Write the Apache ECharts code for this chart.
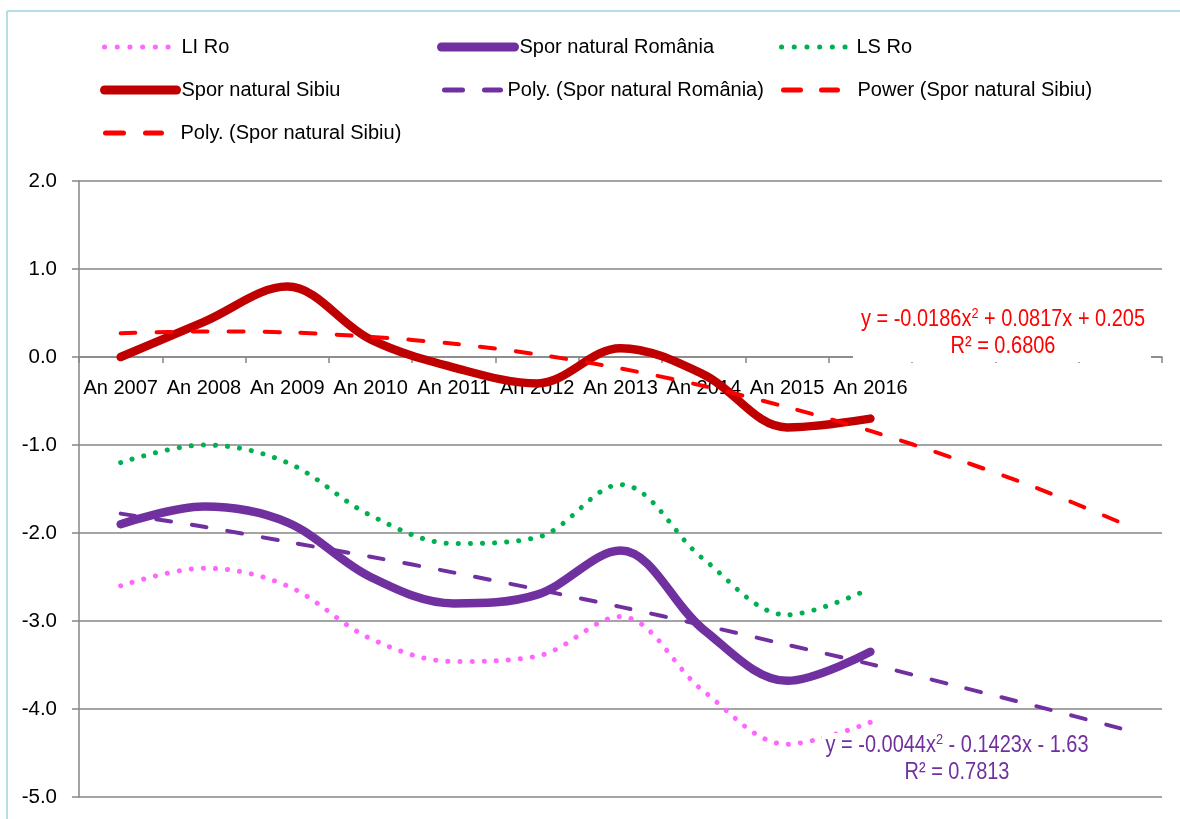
<!DOCTYPE html>
<html>
<head>
<meta charset="utf-8">
<script src="https://cdn.jsdelivr.net/npm/echarts@6/dist/echarts.min.js"></script>
<style>
html,body{margin:0;padding:0;background:#fff;}
#chart{width:1180px;height:819px;}
</style>
</head>
<body>
<div id="chart"></div>
<script>
// ---- data ----
const categories = ['An 2007','An 2008','An 2009','An 2010','An 2011','An 2012','An 2013','An 2014','An 2015','An 2016','','',''];
const liRo        = [-2.6, -2.4, -2.6, -3.2, -3.46, -3.4, -2.95, -3.8, -4.4, -4.15];
const sporRomania = [-1.9, -1.7, -1.88, -2.5, -2.8, -2.7, -2.2, -3.1, -3.68, -3.35];
const lsRo        = [-1.2, -1.0, -1.2, -1.8, -2.12, -2.05, -1.45, -2.3, -2.93, -2.63];
const sporSibiu   = [0.0, 0.4, 0.8, 0.2, -0.12, -0.3, 0.1, -0.2, -0.8, -0.7];
const polyRomania = [-1.78, -1.93, -2.10, -2.27, -2.45, -2.64, -2.84, -3.05, -3.27, -3.49, -3.73, -3.97, -4.22];
const powerSibiu  = [];
const polySibiu   = [0.27, 0.29, 0.28, 0.23, 0.15, 0.03, -0.13, -0.33, -0.57, -0.84, -1.15, -1.49, -1.88];
const yTicks = {min: -5, max: 2, interval: 1};
const eqSibiu = {a: '-0.0186', b: '+ 0.0817x + 0.205', r2: '0.6806'};
const eqRomania = {a: '-0.0044', b: '- 0.1423x - 1.63', r2: '0.7813'};

const FONT = "'Liberation Sans',Arial,sans-serif";
const C_PINK = '#FF66FF', C_PURPLE = '#7030A0', C_GREEN = '#00B050', C_DRED = '#C00000', C_RED = '#FF0000';

const GRID = {left: 79, right: 18, top: 181, bottom: 22};
const H = 819;
const gridH = H - GRID.top - GRID.bottom;
const zeroOffset = -gridH * (0 - yTicks.min) / (yTicks.max - yTicks.min);

const chart = echarts.init(document.getElementById('chart'), null, {renderer: 'canvas'});

const dotted = [0.1, 12];
const dashed = [15, 21];

function leg(name, left, top, w, pad, ls) {
  return {
    data: [name], left: left, top: top, itemWidth: w, itemHeight: 20,
    padding: 0, selectedMode: false,
    itemStyle: {opacity: 0},
    lineStyle: ls,
    textStyle: {fontFamily: FONT, fontSize: 20, color: '#000', padding: [0, 0, 0, pad]}
  };
}

const option = {
  animation: false,
  backgroundColor: '#fff',
  legend: [
    leg('LI Ro', 100, 37, 66, 8, {color: C_PINK, width: 5, type: [0.1, 12.6], cap: 'round', dashOffset: -2}),
    leg('Spor natural România', 437, 37, 73, 0, {color: C_PURPLE, width: 9, type: 'solid', cap: 'round'}),
    leg('LS Ro', 777, 37, 66, 6, {color: C_GREEN, width: 5, type: [0.1, 12.6], cap: 'round', dashOffset: -2}),
    leg('Spor natural Sibiu', 100, 80, 72, 0, {color: C_DRED, width: 9, type: 'solid', cap: 'round'}),
    leg('Poly. (Spor natural România)', 440, 80, 58, 2, {color: C_PURPLE, width: 5, type: [18, 22], cap: 'round', dashOffset: -2}),
    leg('Power (Spor natural Sibiu)', 779, 80, 56, 15, {color: C_RED, width: 5, type: [17, 21], cap: 'round', dashOffset: -2}),
    leg('Poly. (Spor natural Sibiu)', 101, 123, 58, 14, {color: C_RED, width: 5, type: [18, 22], cap: 'round', dashOffset: -2})
  ],
  grid: {left: GRID.left, right: GRID.right, top: GRID.top, bottom: GRID.bottom, containLabel: false},
  xAxis: {
    type: 'category', data: categories, boundaryGap: true, offset: zeroOffset,
    axisLine: {onZero: false, lineStyle: {color: '#868686', width: 1.5}},
    axisTick: {show: true, interval: 0, length: 6, lineStyle: {color: '#868686', width: 1.5}},
    axisLabel: {interval: 0, margin: 21, fontFamily: FONT, fontSize: 20, color: '#000'},
    splitLine: {show: false}
  },
  yAxis: {
    type: 'value', min: yTicks.min, max: yTicks.max, interval: yTicks.interval,
    axisLine: {show: true, lineStyle: {color: '#868686', width: 1.5}},
    axisTick: {show: true, length: 7, lineStyle: {color: '#868686', width: 1.5}},
    axisLabel: {margin: 22, fontFamily: FONT, fontSize: 20.5, color: '#000', formatter: v => v.toFixed(1)},
    splitLine: {show: true, lineStyle: {color: '#868686', width: 1.5}}
  },
  series: [
    {name: 'LI Ro', type: 'line', data: liRo, smooth: 0.35, symbol: 'none', z: 3,
     lineStyle: {color: C_PINK, width: 5, type: dotted, cap: 'round'}, itemStyle: {color: C_PINK}},
    {name: 'Spor natural România', type: 'line', data: sporRomania, smooth: 0.35, symbol: 'none', z: 4,
     lineStyle: {color: C_PURPLE, width: 8.5, cap: 'round', join: 'round'}, itemStyle: {color: C_PURPLE}},
    {name: 'LS Ro', type: 'line', data: lsRo, smooth: 0.35, symbol: 'none', z: 3,
     lineStyle: {color: C_GREEN, width: 5, type: dotted, cap: 'round'}, itemStyle: {color: C_GREEN}},
    {name: 'Spor natural Sibiu', type: 'line', data: sporSibiu, smooth: 0.35, symbol: 'none', z: 4,
     lineStyle: {color: C_DRED, width: 8.5, cap: 'round', join: 'round'}, itemStyle: {color: C_DRED}},
    {name: 'Poly. (Spor natural România)', type: 'line', data: polyRomania, smooth: 0.3, symbol: 'none', z: 5,
     lineStyle: {color: C_PURPLE, width: 4, type: dashed, cap: 'round'}, itemStyle: {color: C_PURPLE}},
    {name: 'Power (Spor natural Sibiu)', type: 'line', data: powerSibiu, symbol: 'none', z: 5,
     lineStyle: {color: C_RED, width: 4, type: dashed, cap: 'round'}, itemStyle: {color: C_RED}},
    {name: 'Poly. (Spor natural Sibiu)', type: 'line', data: polySibiu, smooth: 0.3, symbol: 'none', z: 5,
     lineStyle: {color: C_RED, width: 4, type: dashed, cap: 'round'}, itemStyle: {color: C_RED}}
  ],
  graphic: [
    {type: 'line', shape: {x1: 7, y1: 11, x2: 7, y2: 819}, style: {stroke: '#B7DEE8', lineWidth: 2}, z: 1},
    {type: 'line', shape: {x1: 7, y1: 11, x2: 1180, y2: 11}, style: {stroke: '#B7DEE8', lineWidth: 2}, z: 1},
    {type: 'rect', shape: {x: 853, y: 302, width: 298, height: 60}, style: {fill: '#fff'}, z: 20},
    {type: 'text', x: 1003, y: 333, z: 21, scaleX: 0.85,
     style: {
       text: '{n|y = ' + eqSibiu.a + 'x}{s|2}{n| ' + eqSibiu.b + '}\n{n|R² = ' + eqSibiu.r2 + '}',
       align: 'center', verticalAlign: 'middle',
       rich: {
         n: {fontFamily: FONT, fontSize: 23.5, fill: C_RED, lineHeight: 27, align: 'center'},
         s: {fontFamily: FONT, fontSize: 15, fill: C_RED, lineHeight: 27, verticalAlign: 'top', padding: [0, 0, 10, 0]}
       }
     }},
    {type: 'rect', shape: {x: 822, y: 733, width: 270, height: 54}, style: {fill: '#fff'}, z: 20},
    {type: 'text', x: 957, y: 759, z: 21, scaleX: 0.85,
     style: {
       text: '{n|y = ' + eqRomania.a + 'x}{s|2}{n| ' + eqRomania.b + '}\n{n|R² = ' + eqRomania.r2 + '}',
       align: 'center', verticalAlign: 'middle',
       rich: {
         n: {fontFamily: FONT, fontSize: 23.5, fill: C_PURPLE, lineHeight: 27, align: 'center'},
         s: {fontFamily: FONT, fontSize: 15, fill: C_PURPLE, lineHeight: 27, verticalAlign: 'top', padding: [0, 0, 10, 0]}
       }
     }}
  ]
};
chart.setOption(option);
</script>
</body>
</html>
